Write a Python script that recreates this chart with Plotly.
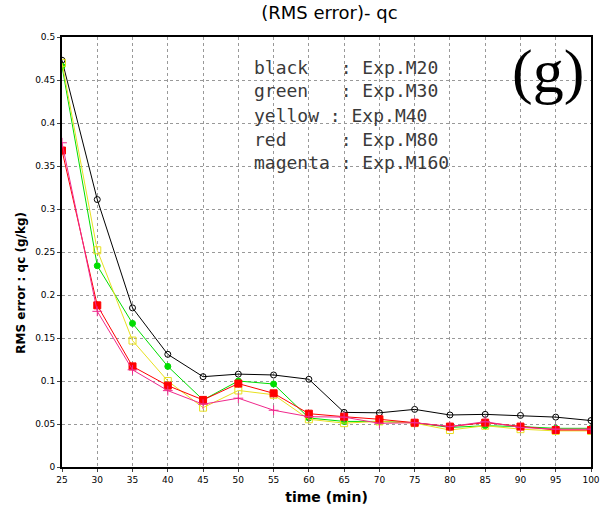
import plotly.graph_objects as go

time = [25, 30, 35, 40, 45, 50, 55, 60, 65, 70, 75, 80, 85, 90, 95, 100]
m20 = [0.473, 0.311, 0.185, 0.131, 0.105, 0.108, 0.107, 0.102, 0.0635, 0.063, 0.067, 0.0605, 0.0612, 0.060, 0.058, 0.054]
m30 = [0.466, 0.234, 0.167, 0.117, 0.078, 0.100, 0.0965, 0.057, 0.053, 0.053, 0.0515, 0.046, 0.048, 0.047, 0.045, 0.045]
m40 = [0.470, 0.252, 0.147, 0.100, 0.069, 0.089, 0.084, 0.0555, 0.051, 0.053, 0.051, 0.043, 0.048, 0.044, 0.042, 0.042]
m80 = [0.368, 0.188, 0.117, 0.0946, 0.078, 0.097, 0.0857, 0.062, 0.0585, 0.0555, 0.0515, 0.047, 0.0516, 0.047, 0.043, 0.043]
m160 = [0.377, 0.181, 0.113, 0.0888, 0.073, 0.080, 0.066, 0.0585, 0.058, 0.0508, 0.0515, 0.047, 0.0527, 0.046, 0.044, 0.044]

series = [
    ("M20", m20, "#000000", "circle-open", 6),
    ("M30", m30, "#00dd00", "circle", 6),
    ("M40", m40, "#e8e020", "square-open", 7),
    ("M80", m80, "#ff0000", "square", 7),
    ("M160", m160, "#f0288c", "cross-thin-open", 7),
]
legend_lines = [
    "black   : Exp.M20",
    "green   : Exp.M30",
    "yellow : Exp.M40",
    "red     : Exp.M80",
    "magenta : Exp.M160",
]
yticks = [0, 0.05, 0.1, 0.15, 0.2, 0.25, 0.3, 0.35, 0.4, 0.45, 0.5]
ytick_text = ["0", "0.05", "0.1", "0.15", "0.2", "0.25", "0.3", "0.35", "0.4", "0.45", "0.5"]

fig = go.Figure()
for name, vals, col, sym, sz in series:
    fig.add_trace(go.Scatter(
        x=time, y=vals, mode="lines+markers", name=name,
        line=dict(color=col, width=1),
        marker=dict(symbol=sym, size=sz, color=col, line=dict(color=col, width=1)),
    ))

row_px = [67, 91, 115, 139, 162]
for t, py in zip(legend_lines, row_px):
    fig.add_annotation(
        x=(255 - 62) / 538, y=(467 - py) / 430, xref="paper", yref="paper",
        text=t.replace(" ", "&nbsp;"), showarrow=False, xanchor="left", yanchor="middle",
        font=dict(family="DejaVu Sans Mono", size=18, color="#3a3a3a"),
    )
fig.add_annotation(
    x=(556 - 62) / 538, y=(467 - 71) / 430, xref="paper", yref="paper", text="(g)", showarrow=False,
    xanchor="center", yanchor="middle",
    font=dict(family="Liberation Serif", size=62, color="#000000"),
)
fig.add_annotation(
    x=(20 - 62) / 538, y=(467 - 283) / 430, xref="paper", yref="paper",
    text="<b>RMS error : qc (g/kg)</b>", showarrow=False, textangle=-90,
    xanchor="center", yanchor="middle",
    font=dict(family="DejaVu Sans", size=12, color="#000000"),
)

fig.update_layout(
    width=610, height=513,
    margin=dict(l=62, r=10, t=37, b=46),
    paper_bgcolor="white", plot_bgcolor="white",
    showlegend=False,
    title=dict(text="(RMS error)- qc", x=0.54, xanchor="center", y=0.975, yanchor="middle",
               font=dict(family="DejaVu Sans", size=18, color="#000000")),
)
fig.update_xaxes(
    range=[25, 100], tickvals=time, ticks="outside", ticklen=3,
    showgrid=True, gridcolor="#999999", griddash="dot", gridwidth=1,
    showline=True, linecolor="#000000", linewidth=2, mirror=True, zeroline=False,
    tickfont=dict(family="DejaVu Sans", size=9, color="#000000"),
    title=dict(text="<b>time (min)</b>", font=dict(family="DejaVu Sans", size=14, color="#000000"), standoff=8),
)
fig.update_yaxes(
    range=[0, 0.5], tickvals=yticks, ticktext=ytick_text, ticks="outside", ticklen=3,
    showgrid=True, gridcolor="#999999", griddash="dot", gridwidth=1,
    showline=True, linecolor="#000000", linewidth=2, mirror=True, zeroline=False,
    tickfont=dict(family="DejaVu Sans", size=9, color="#000000"),
)
fig.write_html("out.html")
